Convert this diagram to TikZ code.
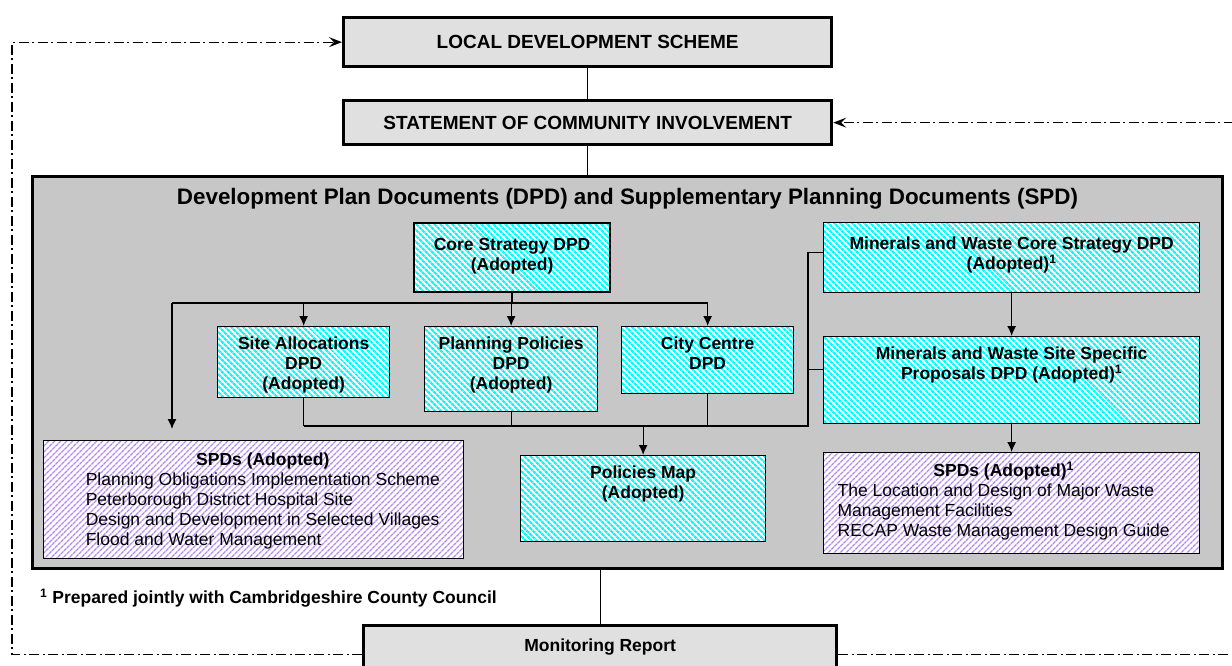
\documentclass[tikz,border=0pt]{standalone}
\usepackage{fontspec}
\setmainfont{Liberation Sans}
\usetikzlibrary{arrows.meta,patterns.meta}

\definecolor{lilac}{RGB}{180,140,240}

% box body: width, height, text set from the top
\newcommand{\boxtext}[4][10pt]{\parbox[c][#3][t]{#2}{\centering\vspace*{#1}#4}}

\begin{document}
\begin{tikzpicture}[x=1pt,y=-1pt,
	greybox/.style={draw, line width=3.3pt, fill=black!12, inner sep=0pt, anchor=north west, font=\fontsize{19}{22}\selectfont\bfseries},
	mainpanel/.style={draw, line width=3pt, fill=black!22, inner sep=0pt, anchor=north west, font=\fontsize{22.4}{26}\selectfont\bfseries},
	dpd/.style={draw, line width=1.3pt, inner sep=0pt, anchor=north west, preaction={fill=white}, pattern={Lines[angle=-45,distance=4pt,line width=2.2pt]}, pattern color=cyan, font=\fontsize{17.5}{20}\selectfont\bfseries},
	spd/.style={dpd, pattern={Lines[angle=45,distance=4pt,line width=1.5pt]}, pattern color=lilac, font=\fontsize{17.5}{20}\selectfont},
	wire/.style={line width=1.3pt},
	arr/.style={wire, -{Latex[length=10pt,width=9pt]}},
	feedback/.style={line width=1.1pt, dash pattern=on 10pt off 3.5pt on 2pt off 3.5pt, -{Stealth[length=13pt,width=10pt,inset=5pt]}},
]
	\useasboundingbox (0,0) rectangle (1232,666);

	% scheme and involvement
	\node[greybox, minimum width=488pt, minimum height=49pt] (lds) at (342,16) {LOCAL DEVELOPMENT SCHEME};
	\node[greybox, minimum width=488pt, minimum height=44pt] (sci) at (342,99) {STATEMENT OF COMMUNITY INVOLVEMENT};

	% development plan panel
	\node[mainpanel] (dev) at (31,175) {\boxtext[12pt]{1190pt}{392pt}{Development Plan Documents (DPD) and Supplementary Planning Documents (SPD)}};

	% DPD boxes
	\node[dpd] (core) at (413,222) {\boxtext[15pt]{196pt}{69pt}{Core Strategy DPD\\(Adopted)}};
	\node[dpd] (sa) at (217,326) {\boxtext{172pt}{71pt}{Site Allocations\\DPD\\(Adopted)}};
	\node[dpd] (pp) at (424,326) {\boxtext{173pt}{85pt}{Planning Policies\\DPD\\(Adopted)}};
	\node[dpd] (cc) at (621,326) {\boxtext{172pt}{67pt}{City Centre\\DPD}};
	\node[dpd] (mwcs) at (823,222) {\boxtext[14pt]{376pt}{70pt}{Minerals and Waste Core Strategy DPD\\(Adopted)\textsuperscript{1}}};
	\node[dpd] (mwss) at (823,336) {\boxtext{376pt}{87pt}{Minerals and Waste Site Specific\\Proposals DPD (Adopted)\textsuperscript{1}}};
	\node[dpd] (pmap) at (520,455) {\boxtext{245pt}{86pt}{Policies Map\\(Adopted)}};

	% SPD boxes
	\node[spd] (spdl) at (43,440) {\boxtext[11pt]{420pt}{118pt}{\raggedright\hspace*{42pt}\begin{tabular}[t]{@{}l@{}}
		\multicolumn{1}{@{}c@{}}{\bfseries SPDs (Adopted)}\\
		Planning Obligations Implementation Scheme\\
		Peterborough District Hospital Site\\
		Design and Development in Selected Villages\\
		Flood and Water Management
	\end{tabular}}};
	\node[spd] (spdr) at (823,452) {\boxtext[9pt]{376pt}{101pt}{\raggedright\hspace*{14pt}\begin{tabular}[t]{@{}l@{}}
		\multicolumn{1}{@{}c@{}}{\bfseries SPDs (Adopted)\textsuperscript{1}}\\
		The Location and Design of Major Waste\\
		Management Facilities\\
		RECAP Waste Management Design Guide
	\end{tabular}}};

	% footnote and monitoring
	\node[anchor=west, inner sep=0pt, font=\fontsize{17.5}{20}\selectfont\bfseries] (note) at (40,598) {\textsuperscript{1} Prepared jointly with Cambridgeshire County Council};
	\node[greybox, font=\fontsize{17.5}{20}\selectfont\bfseries] (mon) at (362,624) {\boxtext[13pt]{473pt}{58pt}{Monitoring Report}};

	% top chain
	\draw[wire] (lds.south) -- (sci.north);
	\draw[wire] (sci.south) -- (sci.south |- dev.north);
	\draw[wire] (mon.north) -- (mon.north |- dev.south);

	% core strategy down to the DPDs
	\coordinate (fork) at (172,303);
	\draw[wire] (core.south) -- (core.south |- fork);
	\draw[wire] (fork) -- (cc.north |- fork);
	\draw[arr, shorten >=11pt] (fork) -- (fork |- spdl.north);
	\foreach \n in {sa,pp,cc} {
		\draw[arr] (\n.north |- fork) -- (\n.north);
	}

	% DPDs joined to the policies map
	\coordinate (join) at (808,426);
	\coordinate (mwcsin) at ([yshift=5pt]mwcs.west);
	\coordinate (mwssin) at ([yshift=11pt]mwss.west);
	\foreach \n in {sa,pp,cc} {
		\draw[wire] (\n.south) -- (\n.south |- join);
	}
	\draw[wire] (sa.south |- join) -- (join) -- (join |- mwcsin) -- (mwcsin);
	\draw[wire] (join |- mwssin) -- (mwssin);
	\draw[arr] (pmap.north |- join) -- (pmap.north);

	% minerals and waste chain
	\draw[arr] (mwcs.south) -- (mwss.north);
	\draw[arr] (mwss.south) -- (spdr.north);

	% monitoring feedback
	\coordinate (backL) at (12,0);
	\coordinate (backR) at (1245,0);
	\draw[feedback] (mon.west) -- (mon.west -| backL) -- (lds.west -| backL) -- (lds.west);
	\draw[feedback] (mon.east) -- (mon.east -| backR) -- (sci.east -| backR) -- (sci.east);
\end{tikzpicture}
\end{document}
